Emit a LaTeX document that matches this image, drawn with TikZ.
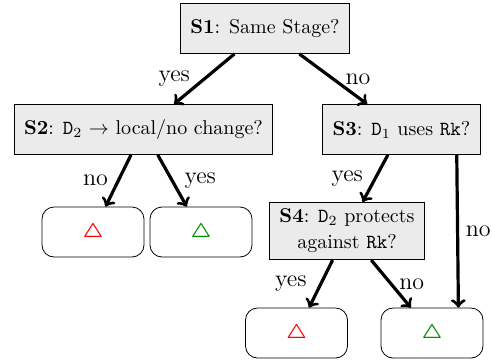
\documentclass[tikz,border=0pt]{standalone}
\usepackage{amsmath}
\usepackage{amssymb}
\usetikzlibrary{positioning}

\begin{document}
\begin{tikzpicture}[node distance=51pt,on grid,
	test/.style={draw,fill=black!8,inner xsep=5pt,minimum height=25pt,align=center},
	leaf/.style={draw,rounded corners=6pt,minimum width=51pt,minimum height=25pt},
	lbl/.style={font=\large},
	every edge/.style={draw,line width=1.6pt}]

	\useasboundingbox (-132.5pt,-165.75pt) rectangle (113.5pt,14.25pt);

	\node[test] (s1) {\textbf{S1}: Same Stage?};
	\node[test] (s2) [below left=50.5pt and 60.75pt of s1] {\textbf{S2}: \texttt{D}$_2$ $\rightarrow$ local/no change?};
	\node[test] (s3) [below right=50.5pt and 68.25pt of s1] {\textbf{S3}: \texttt{D}$_1$ uses \texttt{Rk}?};

	\node[leaf] (r1) [below left=51.25pt and 25.25pt of s2] {\textcolor{red}{$\boldsymbol{\triangle}$}};
	\node[leaf] (r2) [below right=51.25pt and 28.75pt of s2] {\textcolor{green!55!black}{$\boldsymbol{\triangle}$}};

	\node[test] (s4) [below left=50.75pt and 27.25pt of s3] {\textbf{S4}: \texttt{D}$_2$ protects\\[1pt] against \texttt{Rk}?};

	\node[leaf] (r3) [below left=51pt and 25.25pt of s4] {\textcolor{red}{$\boldsymbol{\triangle}$}};
	\node[leaf] (r4) [below right=51pt and 42.5pt of s4] {\textcolor{green!55!black}{$\boldsymbol{\triangle}$}};

	\path[->]
		(s1) edge node[lbl,left=3pt] {yes} (s2)
		     edge node[lbl,right=2pt] {no} (s3)
		(s2) edge node[lbl,left=1pt] {no} (r1)
		     edge node[lbl,right=2pt] {yes} (r2)
		(s3) edge node[lbl,left=2pt] {yes} (s4)
		([xshift=-12pt]s3.south east) edge node[lbl,right] {no} ([xshift=-12.5pt]r4.north east)
		(s4) edge node[lbl,left=3pt] {yes} (r3)
		     edge node[lbl,right] {no} (r4);

\end{tikzpicture}
\end{document}
